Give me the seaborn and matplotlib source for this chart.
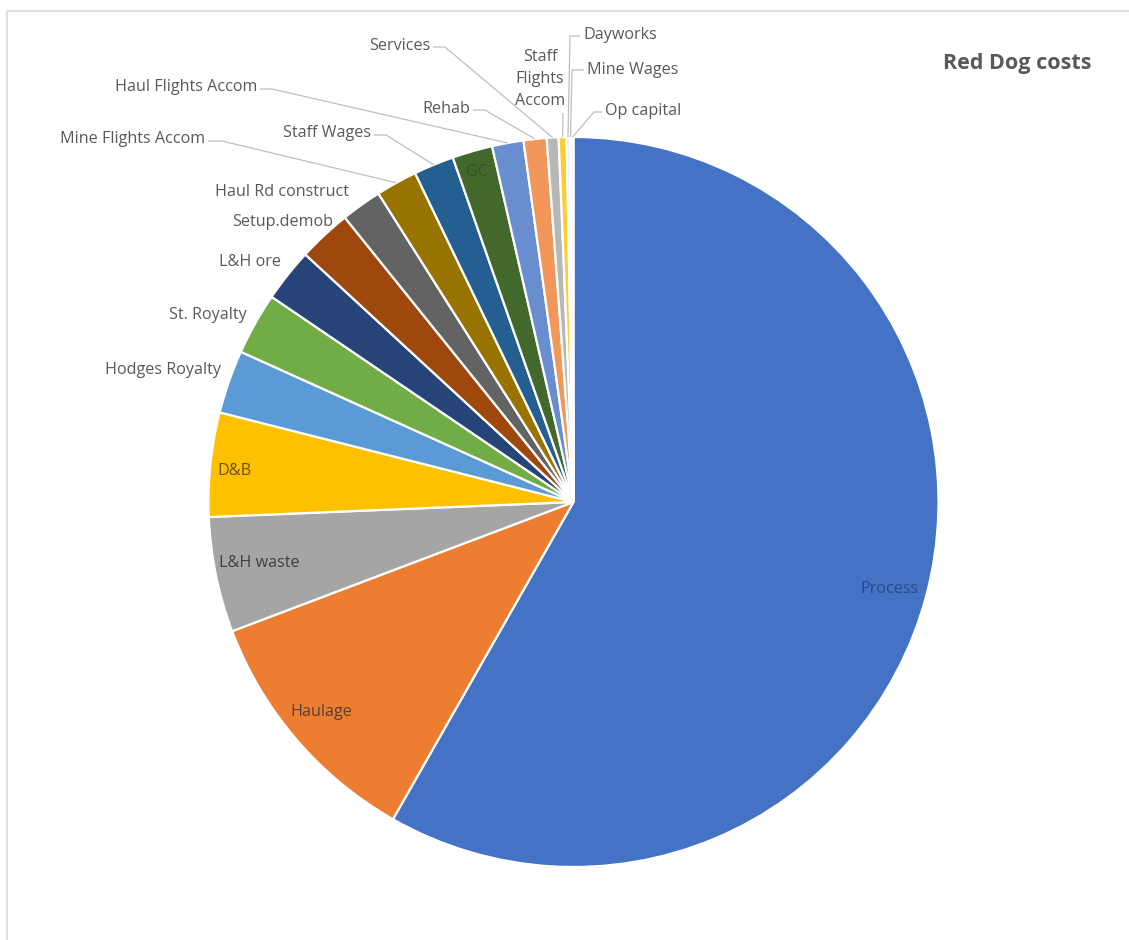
import numpy as np
import matplotlib
matplotlib.use("Agg")
import matplotlib.pyplot as plt
import seaborn as sns

# ---------------- data ----------------
categories = ["Process", "Haulage", "L&H waste", "D&B", "Hodges Royalty", "St. Royalty",
              "L&H ore", "Setup.demob", "Haul Rd construct", "Mine Flights Accom",
              "Staff Wages", "GC", "Haul Flights Accom", "Rehab", "Services",
              "Staff Flights Accom", "Dayworks", "Mine Wages", "Op capital"]
values = [58.2, 11.0, 5.1, 4.6, 2.8, 2.75, 2.36, 2.36, 1.8, 1.83,
          1.78, 1.78, 1.39, 1.02, 0.52, 0.35, 0.12, 0.10, 0.08]
title = "Red Dog costs"

colors = ["#4472C4", "#ED7D31", "#A5A5A5", "#FFC000", "#5B9BD5", "#70AD47",
          "#264478", "#9E480E", "#636363", "#997300", "#255E91", "#43682B",
          "#698ED0", "#F1975A", "#B7B7B7", "#FFCD33", "#7CAFDD", "#8CC168", "#3A5DA0"]

# ---------------- layout ----------------
W, H = 1129, 940
CX, CY, R = 573.5, 502.0, 365.0

sns.set_theme(style="white")
plt.rcParams['font.family'] = ['Open Sans', 'DejaVu Sans']

fig = plt.figure(figsize=(W / 100, H / 100), dpi=100)
fig.patch.set_facecolor("white")
ax = fig.add_axes([(CX - R) / W, (H - CY - R) / H, 2 * R / W, 2 * R / H])

palette = sns.color_palette(colors)
wedges, _ = ax.pie(values, colors=palette, startangle=90, counterclock=False, radius=1.0,
                   wedgeprops=dict(edgecolor="white", linewidth=1.6))
ax.set_xlim(-1, 1)
ax.set_ylim(-1, 1)
ax.set_aspect("auto")
ax.axis("off")


def p2d(px, py):
    return (px - CX) / R, (CY - py) / R


def mid_edge(i, r=1.0):
    w = wedges[i]
    a = np.deg2rad((w.theta1 + w.theta2) / 2)
    return r * np.cos(a), r * np.sin(a)


FS = 11.6
label_col = "#595959"

# inside labels: name -> (px, py, color)
inside = {
    "Process": (889, 589, "#2B4A85"),
    "Haulage": (321, 712, "#5A4030"),
    "L&H waste": (259, 563, "#404040"),
    "D&B": (234, 471, "#6B5200"),
    "GC": (477, 172, "#34502A"),
}
for name, (px, py, c) in inside.items():
    x, y = p2d(px, py)
    ax.text(x, y, name, ha="center", va="center", fontsize=FS, color=c, clip_on=False)

# outside labels: name -> (px, py, ha, leader start px or None)
outside = {
    "Hodges Royalty": (221, 370, "right", None),
    "St. Royalty": (247, 315, "right", None),
    "L&H ore": (281, 262, "right", None),
    "Setup.demob": (333, 222, "right", None),
    "Haul Rd construct": (349, 192, "right", None),
    "Mine Flights Accom": (205, 139, "right", (208, 141, 222)),
    "Staff Wages": (371, 133, "right", (374, 135, 386)),
    "Haul Flights Accom": (257, 87, "right", (260, 89, 272)),
    "Rehab": (470, 109, "right", (473, 110, 485)),
    "Services": (430, 46, "right", (433, 47, 445)),
    "Staff Flights Accom": (540, 79, "center", (563, 113, 563)),
    "Dayworks": (583, 35, "left", (580, 36, 570)),
    "Mine Wages": (587, 70, "left", (584, 70, 572)),
    "Op capital": (605, 111, "left", (602, 112, 594)),
}
for name, (px, py, ha, lead) in outside.items():
    x, y = p2d(px, py)
    txt = "Staff\nFlights\nAccom" if name == "Staff Flights Accom" else name
    ax.text(x, y, txt, ha=ha, va="center", fontsize=FS, color=label_col,
            linespacing=1.5, clip_on=False)
    if lead is not None:
        i = categories.index(name)
        sx, sy = p2d(lead[0], lead[1])
        ex, _ = p2d(lead[2], lead[1])
        mx, my = mid_edge(i)
        ax.plot([sx, ex, mx], [sy, sy, my], color="#BFBFBF", lw=0.9,
                clip_on=False, solid_capstyle="butt")

fig.text(1017 / W, 1 - 64 / H, title, ha="center", va="center", fontsize=15.5,
         fontweight="bold", color="#595959")

# chart-area border
border = plt.Rectangle((6.5 / W, -0.01), 1.1, 1 - 10.5 / H + 0.01, transform=fig.transFigure,
                       fill=False, edgecolor="#D9D9D9", linewidth=1.2)
fig.patches.append(border)

fig.savefig("out.png", dpi=100, facecolor="white")
